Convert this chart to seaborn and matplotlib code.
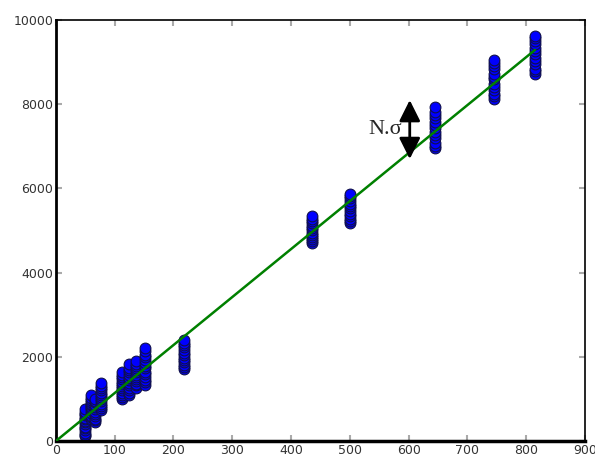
"""
Linear fit over clustered measurements, with an N.sigma band marker
"""

import matplotlib
matplotlib.use("Agg")
import matplotlib.pyplot as plt
import seaborn as sns
import pandas as pd

cluster_x = [50, 60, 66, 77, 112, 124, 137, 151, 218, 435, 500, 645, 745, 815]
cluster_y = [
    [110, 150, 200, 260, 300, 340, 400, 440, 470, 520, 550, 610, 650, 690, 750],
    [520, 570, 600, 660, 740, 780, 800, 850, 880, 930, 980, 1020, 1090],
    [440, 490, 530, 600, 650, 700, 760, 800, 850, 920, 960, 1000],
    [740, 790, 830, 890, 950, 990, 1050, 1100, 1150, 1210, 1260, 1310, 1390],
    [1000, 1050, 1090, 1150, 1200, 1250, 1310, 1360, 1410, 1470, 1520, 1560, 1630],
    [1100, 1150, 1200, 1270, 1330, 1380, 1450, 1500, 1560, 1630, 1690, 1740, 1830],
    [1270, 1320, 1360, 1420, 1470, 1520, 1580, 1630, 1680, 1740, 1790, 1840, 1900],
    [1340, 1400, 1450, 1530, 1590, 1650, 1730, 1790, 1850, 1930, 1990, 2050, 2130, 2220],
    [1700, 1750, 1800, 1870, 1930, 1980, 2050, 2100, 2160, 2230, 2290, 2340, 2400],
    [4700, 4750, 4790, 4850, 4900, 4950, 5010, 5060, 5110, 5170, 5220, 5270, 5340],
    [5180, 5230, 5280, 5350, 5400, 5460, 5530, 5590, 5640, 5710, 5770, 5820, 5880],
    [6960, 7020, 7090, 7190, 7260, 7330, 7430, 7500, 7570, 7670, 7740, 7810, 7930],
    [8120, 8190, 8250, 8350, 8420, 8490, 8590, 8660, 8730, 8830, 8900, 8970, 9060],
    [8720, 8790, 8850, 8950, 9020, 9090, 9190, 9260, 9330, 9430, 9500, 9570, 9620],
]

# fitted line end points
fit_x = [0, 815]
fit_y = [0, 9290]

rows = [(x, y) for x, ys in zip(cluster_x, cluster_y) for y in ys]
df = pd.DataFrame(rows, columns=["x", "y"])
fit_df = pd.DataFrame({"x": fit_x, "y": fit_y})

sns.set_style("white", {"xtick.direction": "in", "ytick.direction": "in",
                        "axes.edgecolor": "black"})

fig = plt.figure(figsize=(5.95, 4.57), dpi=100)
ax = fig.add_axes([0.094, 0.035, 0.889, 0.921])

sns.scatterplot(data=df, x="x", y="y", ax=ax, color="#0000ff", s=60,
                edgecolor="#10104a", linewidth=0.8, zorder=2)
sns.lineplot(data=fit_df, x="x", y="y", ax=ax, color="#008000", linewidth=1.8,
             zorder=3)

# N.sigma double arrow
ax.annotate("", xy=(602, 6700), xytext=(602, 8100),
            arrowprops=dict(arrowstyle="<|-|>", color="black", lw=2,
                            mutation_scale=32, shrinkA=0, shrinkB=0))
ax.text(588, 7400, "N.\u03c3", fontsize=16, family="Liberation Serif",
        ha="right", va="center")

ax.set_xlim(0, 900)
ax.set_ylim(0, 10000)
ax.set_xticks(range(0, 901, 100))
ax.set_yticks(range(0, 10001, 2000))
ax.set_xlabel("")
ax.set_ylabel("")
ax.tick_params(axis="both", which="both", length=4, width=1.5, color="#aaaaaa",
               labelsize=9, labelcolor="#333333", top=True, right=True,
               bottom=True, left=True, pad=2)
ax.spines["left"].set_linewidth(2)
ax.spines["bottom"].set_linewidth(2.5)
ax.spines["top"].set_linewidth(1.2)
ax.spines["right"].set_linewidth(1.2)

fig.savefig("out.png", dpi=100)
